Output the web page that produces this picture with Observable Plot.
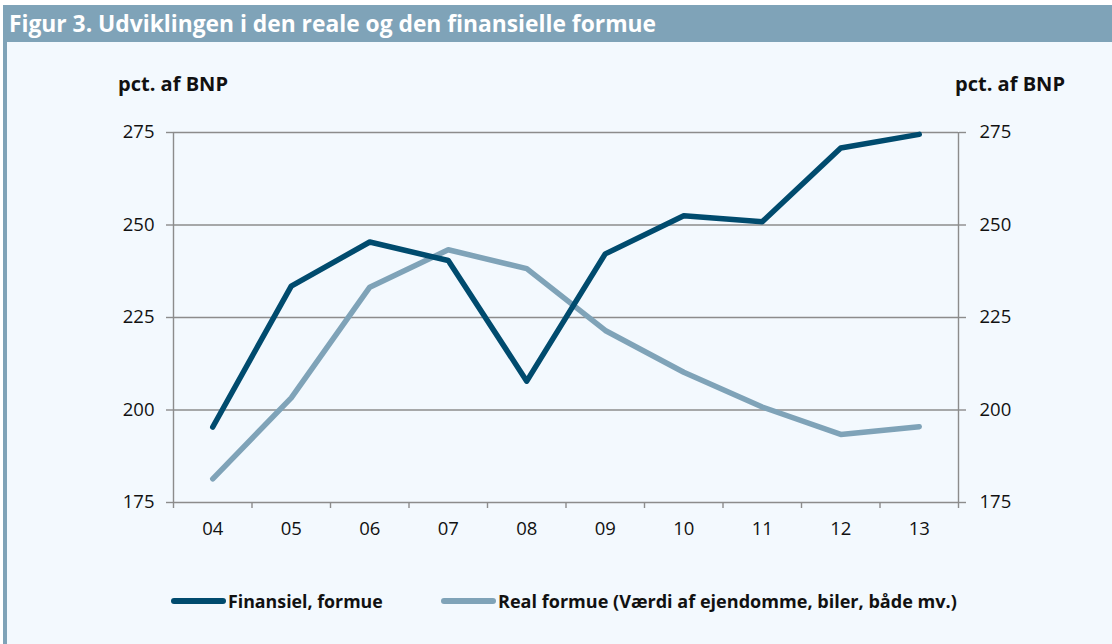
<!DOCTYPE html>
<html>
<head>
<meta charset="utf-8">
<script src="https://cdn.jsdelivr.net/npm/d3@7"></script>
<script src="https://cdn.jsdelivr.net/npm/@observablehq/plot@0.6"></script>
<style>
  html, body { margin: 0; padding: 0; }
  body { width: 1112px; height: 644px; position: relative; background: #ffffff; overflow: hidden; font-family: "Open Sans", sans-serif; }
  #bg { position: absolute; left: 3px; top: 5px; width: 1109px; height: 639px; background: #F3F9FE; }
  #header { position: absolute; left: 3px; top: 5px; width: 1109px; height: 37px; background: #7FA3B8; z-index: 3; }
  #title { position: absolute; left: 6px; top: 0; line-height: 37px; color: #fff; font-family: "Open Sans", sans-serif; font-weight: 700; font-size: 20px; white-space: nowrap; }
  #stripe { position: absolute; left: 3px; top: 42px; width: 4px; height: 602px; background: #7FA3B8; z-index: 3; }
  #chart { position: absolute; left: 0; top: 0; z-index: 2; }
  .unit { position: absolute; top: 72px; line-height: 24px; font-family: "Open Sans", sans-serif; font-weight: 700; font-size: 16px; color: #111; z-index: 3; white-space: nowrap; }
  .leg { position: absolute; top: 589px; height: 24px; display: flex; align-items: center; z-index: 3;
    font-family: "Open Sans", sans-serif; font-weight: 700; font-size: 16px; color: #111; white-space: nowrap; }
  .sw { width: 55px; height: 5.5px; border-radius: 3px; margin-right: 2px; flex: none; }
</style>
</head>
<body>
<div id="bg"></div>
<div id="header"><span id="title" data-w="647">Figur 3. Udviklingen i den reale og den finansielle formue</span></div>
<div id="stripe"></div>
<div class="unit" style="left:118px"><span class="fit" data-w="110">pct. af BNP</span></div>
<div class="unit" style="left:955px"><span class="fit" data-w="110">pct. af BNP</span></div>
<div id="chart"></div>
<div class="leg" style="left:171px"><div class="sw" style="background:#004B6E"></div><span class="fit" data-w="155">Finansiel, formue</span></div>
<div class="leg" style="left:441px"><div class="sw" style="background:#7FA3B8"></div><span class="fit" data-w="459">Real formue (Værdi af ejendomme, biler, både mv.)</span></div>
<script>
const years = ["04", "05", "06", "07", "08", "09", "10", "11", "12", "13"];
const finansiel = [195.4, 233.5, 245.4, 240.4, 207.8, 242.2, 252.5, 250.9, 270.8, 274.5];
const real = [181.4, 203.3, 233.2, 243.3, 238.2, 221.5, 210.2, 200.8, 193.4, 195.5];
const yTicks = [175, 200, 225, 250, 275];

const dark = "#004B6E";
const light = "#7FA3B8";
const grid = "#8C8C8C";

// fit text widths to the reference layout
document.querySelectorAll("#title, .fit").forEach(el => {
  const target = +el.dataset.w;
  const fs = parseFloat(getComputedStyle(el).fontSize);
  const w = el.getBoundingClientRect().width;
  if (w > 0) el.style.fontSize = (fs * target / w).toFixed(2) + "px";
});

const centers = years.map((_, i) => i);
const bounds = d3.range(years.length + 1).map(i => i - 0.5);

const plot = Plot.plot({
  width: 1112,
  height: 644,
  marginLeft: 173,
  marginRight: 154,
  marginTop: 132,
  marginBottom: 142,
  style: { background: "transparent", fontFamily: "'Open Sans', sans-serif", fontSize: "18.5px", color: "#111" },
  x: { type: "linear", domain: [-0.5, years.length - 0.5] },
  y: { domain: [175, 275] },
  marks: [
    Plot.gridY(yTicks.slice(1), { stroke: grid, strokeOpacity: 1, strokeWidth: 1.4 }),
    Plot.ruleY([175], { stroke: grid, strokeWidth: 1.4 }),
    Plot.ruleX([-0.5, years.length - 0.5], { stroke: grid, strokeWidth: 1.4 }),
    Plot.axisY({ anchor: "left", ticks: yTicks, tickSize: 7, tickPadding: 12, stroke: grid, strokeWidth: 1.4, fill: "#111", label: null, fontSize: 18.5 }),
    Plot.axisY({ anchor: "right", ticks: yTicks, tickSize: 7, tickPadding: 14, stroke: grid, strokeWidth: 1.4, fill: "#111", label: null, fontSize: 18.5 }),
    Plot.axisX({ ticks: bounds, tickSize: 6, stroke: grid, strokeWidth: 1.4, tickFormat: () => "", label: null }),
    Plot.axisX({ ticks: centers, tickSize: 0, tickPadding: 19, tickFormat: i => years[i], fill: "#111", label: null, fontSize: 18.5 }),
    Plot.line(real, { x: (d, i) => i, y: d => d, stroke: light, strokeWidth: 5.5, strokeLinejoin: "round", strokeLinecap: "round" }),
    Plot.line(finansiel, { x: (d, i) => i, y: d => d, stroke: dark, strokeWidth: 5.5, strokeLinejoin: "round", strokeLinecap: "round" })
  ]
});
document.getElementById("chart").appendChild(plot);
</script>
</body>
</html>
